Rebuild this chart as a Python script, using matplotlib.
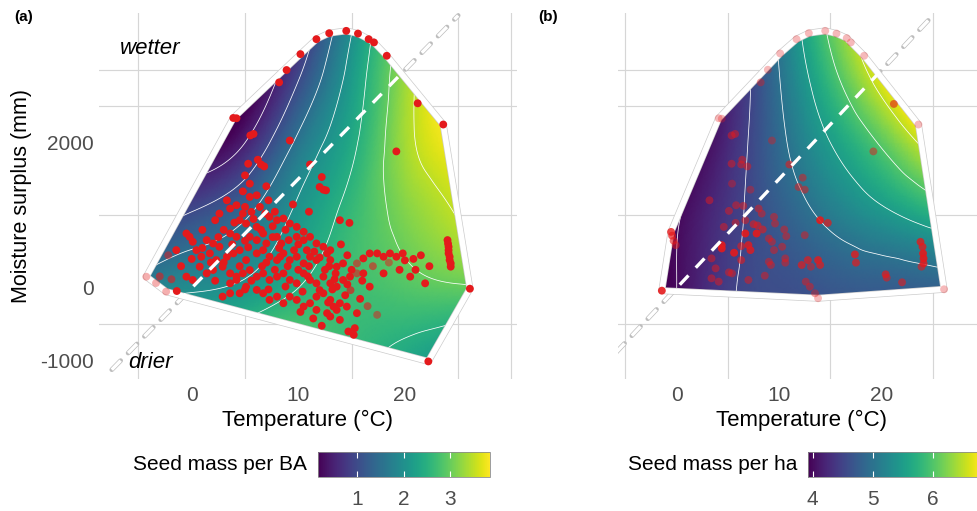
import numpy as np
import matplotlib
matplotlib.use("Agg")
import matplotlib.pyplot as plt
import matplotlib.tri as mtri
import matplotlib.patheffects as pe
from matplotlib.patches import Polygon
from matplotlib.cm import ScalarMappable
from matplotlib.colors import Normalize, to_rgba

plt.rcParams["font.family"] = ["Liberation Sans", "DejaVu Sans"]
plt.rcParams["axes.unicode_minus"] = False

# prediction surface on a coarse climate grid
grid_temp = [-5, 0, 5, 10, 15, 20, 25, 30]
grid_msur = [-2000, -1000, 0, 1000, 2000, 3000, 4000]
surf_ba = [
    [2.6, 2.6, 3.0, 3.0, 2.6, 2.05, 1.65, 1.3],
    [2.5, 2.6, 3.0, 3.0, 2.65, 2.35, 2.05, 1.8],
    [1.7, 1.95, 2.1, 2.5, 2.7, 2.85, 2.95, 3.0],
    [0.6, 1.05, 1.45, 2.1, 2.65, 3.15, 3.52, 3.9],
    [-0.4, 0.0, 0.5, 1.6, 2.4, 3.35, 3.85, 4.3],
    [-1.0, -0.6, -0.1, 0.9, 2.15, 3.3, 4.2, 5.0],
    [-1.5, -1.1, -0.5, 0.4, 1.8, 3.2, 4.3, 5.2],
]
surf_ha = [
    [3.9, 4.1, 4.55, 4.55, 4.55, 4.5, 4.45, 4.4],
    [3.85, 4.05, 4.5, 4.58, 4.62, 4.64, 4.66, 4.68],
    [3.8, 4.0, 4.45, 4.6, 4.7, 4.75, 4.8, 4.85],
    [3.7, 3.97, 4.38, 4.75, 5.1, 5.4, 5.7, 6.0],
    [3.5, 3.75, 4.25, 4.9, 5.5, 6.05, 6.7, 7.3],
    [3.3, 3.6, 4.15, 5.0, 5.9, 6.75, 7.6, 8.4],
    [3.1, 3.5, 4.1, 5.1, 6.2, 7.1, 8.0, 8.8],
]
range_ba = (0.16, 3.86)
range_ha = (3.92, 6.78)
levels_ba = [0.5, 1.0, 1.5, 2.0, 2.5, 3.0, 3.5]
levels_ha = [4.0, 4.5, 5.0, 5.5, 6.0, 6.5]
ticks_ba = [1, 2, 3]
ticks_ha = [4, 5, 6]

# 1:1 reference line (moisture surplus = 150 mm per degree)
ref_temp = [-7.5, 25]
ref_msur = [-1125, 3750]

# plots: temperature, moisture surplus, opacity
sites_ba = np.array([
    (-4.26, 155, 0.35), (-3.35, 68, 0.35), (-2.4, -50, 0.35), (-3.0, 160, 0.6), (-1.9, 120, 0.6),
    (-1.4, -42, 1), (22.2, -1011, 1), (26.1, -10, 1), (23.6, 2250, 1), (21.2, 2542, 1),
    (18.3, 3196, 1), (17.1, 3380, 1), (16.6, 3425, 1), (15.6, 3502, 1), (14.5, 3539, 1),
    (12.9, 3507, 1), (11.7, 3425, 1), (10.2, 3219, 1), (8.9, 3000, 1), (8.2, 2830, 1),
    (4.2, 2336, 1), (3.9, 2340, 1),
    (5.5, 2100, 1), (5.8, 2120, 1), (9.2, 2030, 1), (19.2, 1880, 1),
    (6.2, 1765, 1), (6.5, 1700, 1), (6.8, 1673, 1), (5.3, 1710, 1), (11.1, 1700, 1), (12.2, 1527, 1),
    (12.0, 1390, 1), (12.35, 1353, 1), (12.6, 1344, 1), (5.45, 1436, 1), (6.1, 1276, 1), (5.45, 1253, 1),
    (3.3, 1207, 1), (4.2, 1139, 1), (5.0, 1116, 1), (7.2, 1207, 1),
    (3.6, 1093, 1), (4.8, 1024, 1), (5.6, 1047, 1), (6.4, 1116, 1), (6.9, 1024, 1),
    (2.6, 1024, 1), (2.2, 933, 1), (4.5, 933, 1), (5.1, 887, 1), (6.1, 841, 1),
    (7.3, 979, 1), (8.0, 933, 1), (8.6, 956, 1), (9.2, 887, 1), (9.85, 841, 1), (10.5, 773, 1),
    (13.9, 933, 1), (14.8, 896, 1),
    (-0.5, 750, 1), (-0.2, 704, 1), (0.1, 636, 1), (1.4, 659, 1), (2.0, 613, 1), (2.6, 567, 1),
    (3.6, 750, 1), (4.2, 704, 1), (5.45, 704, 1), (6.1, 659, 1), (6.7, 750, 1), (7.0, 613, 1),
    (8.0, 704, 1), (8.4, 613, 1), (9.1, 659, 1), (9.85, 704, 1), (10.5, 659, 1), (11.1, 704, 1),
    (11.7, 613, 1), (12.35, 567, 1),
    (-1.45, 521, 1), (0.44, 521, 1), (0.9, 430, 1), (1.7, 476, 1), (2.3, 384, 1), (3.3, 430, 1),
    (3.9, 476, 1), (4.5, 521, 1), (5.1, 384, 1), (6.1, 476, 1), (6.7, 521, 1), (7.3, 430, 1),
    (8.0, 384, 1), (8.6, 476, 1), (9.2, 384, 1), (9.85, 430, 1), (10.5, 338, 1), (11.1, 430, 1),
    (11.7, 384, 1), (12.7, 476, 1), (13.0, 384, 1), (13.6, 293, 1), (14.2, 338, 1), (15.5, 338, 0.6),
    (16.1, 407, 1), (16.7, 476, 1), (17.4, 476, 1), (18.0, 430, 1), (18.6, 476, 1), (19.2, 430, 1),
    (19.8, 476, 1),
    (24.0, 659, 1), (24.05, 610, 1), (24.1, 567, 1), (24.1, 520, 1), (24.1, 476, 1), (24.2, 430, 1),
    (24.2, 384, 1), (24.3, 338, 1), (24.3, 293, 1),
    (0.75, 293, 1), (1.4, 201, 1), (2.0, 247, 1), (2.9, 293, 1), (3.6, 201, 1),
    (4.2, 156, 1), (4.8, 201, 1), (5.45, 247, 1), (6.1, 156, 1),
    (3.6, 64, 1), (4.2, 110, 1), (5.1, 18, 1), (6.1, -27, 1),
    (6.7, 201, 1), (7.3, 110, 1), (8.0, 156, 1), (8.6, 201, 1), (9.2, 110, 1),
    (9.85, 64, 1), (10.5, 201, 1), (11.1, 110, 1), (11.7, 64, 1), (12.35, 156, 1),
    (13.0, 64, 1), (13.6, 18, 1), (14.2, 110, 1), (14.85, 156, 1), (15.5, 201, 0.6),
    (16.1, 201, 1), (16.7, 18, 1), (18.0, 201, 1), (20.5, 156, 1), (21.9, 64, 1),
    (6.7, -73, 1), (7.3, -164, 1), (8.0, -119, 1), (8.6, -210, 1),
    (9.2, -119, 1), (9.85, -164, 1), (10.5, -256, 1), (11.1, -210, 1),
    (11.7, -119, 1), (12.35, -73, 1), (13.0, -164, 1), (13.3, -256, 1), (13.9, -210, 1), (14.55, -256, 1),
    (11.7, -302, 1), (12.7, -347, 1), (13.6, -302, 1), (15.5, -347, 1),
    (13.0, -393, 1), (13.9, -439, 1), (14.7, -599, 1), (15.2, -645, 1), (15.3, -553, 1),
    (17.4, -370, 0.5), (0.1, 110, 1), (-0.5, 156, 1), (2.9, -119, 1), (3.6, -73, 1), (4.5, -73, 1),
    (4.0, 900, 1), (5.8, 950, 1), (7.6, 850, 1), (8.8, 800, 1), (10.0, 600, 1), (11.5, 500, 1),
    (12.0, 420, 1), (12.9, 300, 1), (13.5, 200, 1), (12.5, 250, 1), (11.0, 300, 1), (10.0, 250, 1),
    (9.0, 300, 1), (8.2, 550, 1), (7.6, 700, 1), (6.5, 800, 1), (5.0, 650, 1), (4.5, 300, 1),
    (3.0, 350, 1), (2.5, 700, 1), (1.0, 800, 1), (0.0, 400, 1), (-1.0, 300, 1), (-2.2, 450, 0.5),
    (7.0, 350, 1), (7.8, 250, 1), (10.8, 520, 1), (13.0, 520, 1), (14.0, 600, 1), (14.6, 450, 1),
    (15.0, 250, 1), (16.0, 100, 1), (14.4, -100, 1), (12.8, -200, 1), (10.4, -50, 1), (8.8, 20, 1),
    (7.2, -20, 1), (5.6, 100, 1), (13.2, -20, 1), (14.6, 50, 1), (15.8, -150, 1), (16.5, -250, 0.6),
    (17.0, 300, 0.6), (18.5, 350, 0.5), (19.5, 250, 1), (20.8, 400, 1), (21.5, 450, 1), (22.3, 300, 1),
    (21.0, 250, 1), (20.0, 380, 1), (7.0, 1400, 1), (5.0, 1550, 1), (4.8, 1330, 1), (9.5, 1150, 1),
    (11.0, 1050, 1), (3.0, 800, 1), (1.8, 350, 1), (5.0, -20, 1),
    (5.3, 560, 1), (6.6, 300, 1), (8.3, 430, 1), (9.6, 520, 1), (10.9, 160, 1), (12.0, -30, 1),
    (13.4, 120, 1), (14.9, -30, 0.7), (11.4, -420, 1), (12.2, -520, 1), (10.2, -330, 1),
    (7.8, 1050, 1), (3.8, 600, 1), (2.2, 100, 1), (1.0, 550, 1),
])

sites_ha = np.array([
    (-1.45, -37, 0.9), (-0.55, 772, 0.8), (-0.45, 720, 0.7), (-0.3, 650, 0.6), (-0.1, 590, 0.5),
    (4.1, 2336, 0.3), (4.4, 2330, 0.3), (8.9, 3004, 0.3), (10.1, 3228, 0.3), (11.7, 3425, 0.3),
    (12.9, 3507, 0.3), (14.5, 3539, 0.3), (15.6, 3502, 0.3), (16.6, 3439, 0.3), (17.0, 3380, 0.3),
    (18.3, 3196, 0.3), (23.6, 2250, 0.3), (26.1, -18, 0.3), (13.8, -141, 0.3), (13.5, -73, 0.4),
    (21.2, 2533, 0.6), (8.2, 2830, 0.4), (5.36, 2099, 0.5), (5.7, 2120, 0.5), (9.3, 2030, 0.4),
    (19.2, 1880, 0.5), (5.36, 1710, 0.5), (6.3, 1700, 0.5), (6.9, 1673, 0.5), (6.4, 1765, 0.5),
    (5.4, 1436, 0.4), (7.2, 1353, 0.4), (11.0, 1700, 0.6), (12.3, 1518, 0.5), (11.9, 1390, 0.5),
    (12.5, 1353, 0.5), (3.2, 1207, 0.5), (5.1, 1061, 0.5), (5.8, 1139, 0.5), (6.5, 1130, 0.5),
    (8.0, 1093, 0.5), (8.3, 1024, 0.5), (4.6, 841, 0.5), (5.75, 896, 0.5), (6.7, 933, 0.5),
    (7.5, 878, 0.6), (7.9, 860, 0.6), (8.4, 805, 0.6), (9.5, 979, 0.5), (9.6, 887, 0.5),
    (6.7, 750, 0.9), (7.8, 750, 0.9), (4.4, 590, 0.9), (4.4, 544, 0.9), (5.6, 485, 0.9),
    (7.0, 590, 0.8), (7.2, 521, 0.8), (9.0, 681, 0.5), (9.3, 636, 0.5), (9.5, 521, 0.5),
    (10.3, 567, 0.5), (10.5, 805, 0.5), (10.7, 713, 0.5), (12.5, 727, 0.5), (14.0, 933, 0.9),
    (14.75, 896, 0.7), (3.4, 407, 0.5), (3.8, 270, 0.5), (4.1, 87, 0.5), (3.4, 133, 0.5),
    (5.1, 215, 0.5), (5.4, 201, 0.5), (6.3, 576, 0.6), (6.3, 384, 0.6), (7.0, 110, 0.5),
    (8.6, 169, 0.5), (9.0, 361, 0.5), (9.2, 316, 0.5), (10.6, 407, 0.5), (10.6, 348, 0.5),
    (12.2, 316, 0.7), (12.8, 384, 0.7), (13.1, 293, 0.5), (13.8, 384, 0.8), (14.0, 316, 0.7),
    (12.6, 87, 0.5), (13.0, 18, 0.5), (17.4, 462, 0.8), (17.5, 348, 0.7), (20.4, 188, 0.7),
    (20.5, 142, 0.6), (22.0, 78, 0.6), (23.8, 635, 0.8), (24.0, 567, 0.8), (24.05, 476, 0.9),
    (24.1, 407, 0.9), (24.1, 338, 0.8), (23.9, 293, 0.6),
])

W, H = 977, 511
RED = "#E41A1C"
GRID = "#d6d6d6"
TICK_GREY = "#4d4d4d"


def fx(px):
    return px / W


def fy(py):
    return 1 - py / H


def convex_hull(pts):
    pts = sorted(set(map(tuple, pts)))

    def cross(o, a, b):
        return (a[0] - o[0]) * (b[1] - o[1]) - (a[1] - o[1]) * (b[0] - o[0])

    lower, upper = [], []
    for p in pts:
        while len(lower) >= 2 and cross(lower[-2], lower[-1], p) <= 0:
            lower.pop()
        lower.append(p)
    for p in reversed(pts):
        while len(upper) >= 2 and cross(upper[-2], upper[-1], p) <= 0:
            upper.pop()
        upper.append(p)
    return np.array(lower[:-1] + upper[:-1])


def smooth_surface(z):
    nx, ny = len(grid_temp), len(grid_msur)
    gx, gy = np.meshgrid(np.arange(nx, dtype=float), np.arange(ny, dtype=float))
    tris = []
    for j in range(ny - 1):
        for i in range(nx - 1):
            a = j * nx + i
            tris.append([a, a + 1, a + nx + 1])
            tris.append([a, a + nx + 1, a + nx])
    tri = mtri.Triangulation(gx.ravel(), gy.ravel(), tris)
    zz = np.ravel(z)
    interp = mtri.CubicTriInterpolator(tri, zz, kind="min_E")
    ref_tri, ref_z = mtri.UniformTriRefiner(tri).refine_field(zz, interp, subdiv=5)
    x = np.interp(ref_tri.x, np.arange(nx), grid_temp)
    y = np.interp(ref_tri.y, np.arange(ny), grid_msur)
    return mtri.Triangulation(x, y, ref_tri.triangles), ref_z


def draw_panel(ax, surf, vrange, levels, sites, xlim, show_y):
    ax.set_xlim(*xlim)
    ax.set_ylim(-1253, 3785)
    for s in ax.spines.values():
        s.set_visible(False)
    ax.set_xticks([0, 10, 20])
    ax.set_xticks([-5, 5, 15, 25, 30], minor=True)
    ax.set_yticks([-1000, 0, 2000])
    ax.set_yticks([-500, 1000, 2500, 3000], minor=True)
    ax.grid(which="major", color=GRID, lw=1.2)
    ax.grid(which="minor", color=GRID, lw=0.85)
    ax.set_axisbelow(True)
    ax.tick_params(which="both", length=0, labelsize=15, labelcolor=TICK_GREY)
    ax.tick_params(axis="x", pad=5)
    ax.tick_params(axis="y", pad=4)
    if not show_y:
        ax.set_yticklabels([])

    hull = convex_hull(sites[:, :2])
    clip = Polygon(hull, closed=True, transform=ax.transData)

    dash = dict(color="white", lw=2.4, dashes=(3.8, 3.2), solid_capstyle="butt")
    ax.plot(ref_temp, ref_msur, zorder=1, **dash,
            path_effects=[pe.Stroke(linewidth=3.4, foreground="#bdbdbd", capstyle="round"),
                          pe.Normal()])

    tri, z = smooth_surface(surf)
    norm = Normalize(*vrange)
    pc = ax.tripcolor(tri, z, shading="gouraud", cmap="viridis", norm=norm, zorder=2)
    pc.set_clip_path(clip)
    cs = ax.tricontour(tri, z, levels=levels, colors="white", linewidths=0.55, zorder=2.2)
    cs.set_clip_path(clip)

    ax.add_patch(Polygon(hull, closed=True, fc="none", ec="#cccccc", lw=5.0, zorder=2.5,
                         joinstyle="round"))
    ax.add_patch(Polygon(hull, closed=True, fc="none", ec="white", lw=4.0, zorder=2.6,
                         joinstyle="round"))

    cols = np.tile(to_rgba(RED), (len(sites), 1))
    cols[:, 3] = sites[:, 2]
    ax.scatter(sites[:, 0], sites[:, 1], s=32, c=cols, linewidths=0, zorder=3)

    inner, = ax.plot(ref_temp, ref_msur, zorder=4, **dash)
    inner.set_clip_path(clip)
    return norm


fig = plt.figure(figsize=(W / 100, H / 100), dpi=100)
ax_a = fig.add_axes([fx(99), fy(379), fx(517) - fx(99), fy(13) - fy(379)])
ax_b = fig.add_axes([fx(618), fy(379), fx(984) - fx(618), fy(13) - fy(379)])

norm_a = draw_panel(ax_a, surf_ba, range_ba, levels_ba, sites_ba, (-8.70, 30.52), True)
norm_b = draw_panel(ax_b, surf_ha, range_ha, levels_ha, sites_ha, (-5.73, 27.55), False)

ax_a.text(-6.73, 3303, "wetter", style="italic", fontsize=16, ha="left", va="center")
ax_a.text(-5.98, -1019, "drier", style="italic", fontsize=16, ha="left", va="center")

fig.text(fx(14), fy(17), "(a)", fontsize=11, fontweight="bold", ha="left", va="center")
fig.text(fx(538), fy(17), "(b)", fontsize=11, fontweight="bold", ha="left", va="center")

fig.text(fx(308), fy(420), "Temperature (°C)", fontsize=16, ha="center", va="center")
fig.text(fx(801), fy(420), "Temperature (°C)", fontsize=16, ha="center", va="center")
fig.text(fx(22), fy(196), "Moisture surplus (mm)", fontsize=15.5, rotation=90,
         ha="center", va="center")

for left, norm, ticks, title in [(318, norm_a, ticks_ba, "Seed mass per BA"),
                                 (808, norm_b, ticks_ha, "Seed mass per ha")]:
    cax = fig.add_axes([fx(left), fy(477), fx(172), fy(452) - fy(477)])
    cb = fig.colorbar(ScalarMappable(norm=norm, cmap="viridis"), cax=cax,
                      orientation="horizontal")
    cb.set_ticks(ticks)
    cb.outline.set_edgecolor("#8c8c8c")
    cb.outline.set_linewidth(0.6)
    cax.tick_params(axis="x", direction="in", length=4, width=0.8, color="white",
                    top=True, bottom=True, labeltop=False, labelbottom=True,
                    labelsize=15, labelcolor=TICK_GREY, pad=9)
    fig.text(fx(left - 11), fy(464), title, fontsize=15, ha="right", va="center")

fig.savefig("out.png", dpi=100)
